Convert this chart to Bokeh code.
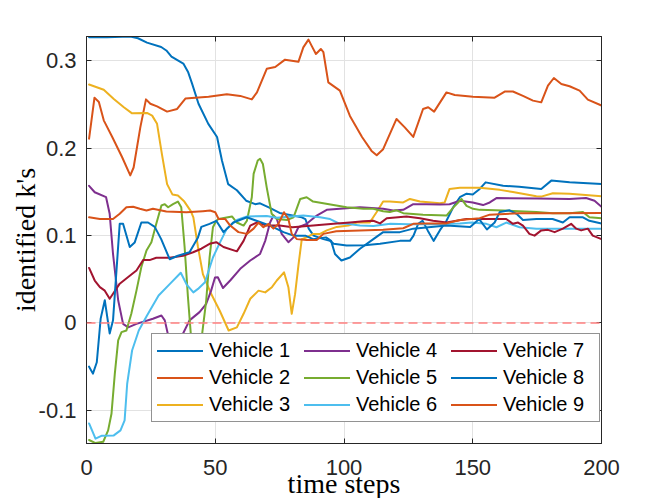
from bokeh.plotting import figure
from bokeh.models import Range1d, LinearAxis, FixedTicker, Legend, LegendItem, Span, Title
from bokeh.embed import file_html
from bokeh.resources import INLINE

# ---------------- data ----------------
x_ticks = [0, 50, 100, 150, 200]
y_ticks = [-0.1, 0, 0.1, 0.2, 0.3]
y_tick_labels = ["-0.1", "0", "0.1", "0.2", "0.3"]
zero_level = 0.0
x_title = "time steps"
y_title = "identified k's"

names = ["Vehicle 1", "Vehicle 2", "Vehicle 3", "Vehicle 4", "Vehicle 5",
         "Vehicle 6", "Vehicle 7", "Vehicle 8", "Vehicle 9"]
colors = ["#0072BD", "#D95319", "#EDB120", "#7E2F8E", "#77AC30",
          "#4DBEEE", "#A2142F", "#0072BD", "#D95319"]

v1_x = [1, 8, 17, 20, 23.5, 29, 31, 33, 37.6, 39.5, 41, 43.5, 47.3, 50.7, 52.6, 55, 58.4, 62, 65.5, 67.4,
        71, 75, 80, 83.6, 85, 86.3, 88.2, 92, 94.6, 96, 101, 108, 114, 121.7, 125.6, 127, 128.8, 130.5,
        132.5, 134.8, 137.2, 139.8, 142.4, 145, 147.6, 150, 152.7, 155, 161.8, 168, 176.6, 180.5, 187.6, 200]
v1_y = [0.327, 0.327, 0.328, 0.326, 0.321, 0.316, 0.312, 0.305, 0.297, 0.287, 0.274, 0.251, 0.228, 0.213,
        0.186, 0.159, 0.152, 0.140, 0.136, 0.137, 0.132, 0.126, 0.123, 0.121, 0.119, 0.108, 0.100, 0.096,
        0.094, 0.0906, 0.0887, 0.089, 0.0906, 0.094, 0.094, 0.100, 0.1135, 0.117, 0.106, 0.094, 0.106,
        0.117, 0.1325, 0.144, 0.148, 0.147, 0.1535, 0.161, 0.157, 0.156, 0.1535, 0.163, 0.161, 0.159]

v2_x = [1, 3.1, 4.8, 6.7, 10, 13.8, 17, 18.3, 20.9, 23.1, 24.8, 27.4, 31.3, 35.2, 38.4, 42.2, 47.4, 54.5,
        59.7, 64.2, 66.2, 70, 73.3, 77.1, 82.3, 84.2, 86.2, 87.5, 89.1, 91, 92, 93.9, 96.5, 98.4, 102.3,
        107, 110.7, 112.7, 115.2, 120.4, 123.6, 126.9, 130.7, 132.7, 135, 139.8, 143, 150.1, 158.5, 162.4,
        165.6, 169.5, 173.4, 176.6, 179.2, 181.5, 184.4, 187.6, 191.5, 194.7, 200]
v2_y = [0.211, 0.258, 0.253, 0.232, 0.213, 0.190, 0.169, 0.178, 0.224, 0.256, 0.251, 0.248, 0.242, 0.245,
        0.257, 0.258, 0.259, 0.262, 0.260, 0.256, 0.264, 0.291, 0.293, 0.3015, 0.299, 0.3156, 0.3244, 0.317,
        0.308, 0.3137, 0.310, 0.2755, 0.270, 0.266, 0.237, 0.213, 0.197, 0.192, 0.199, 0.2336, 0.224, 0.213,
        0.245, 0.247, 0.242, 0.264, 0.261, 0.259, 0.258, 0.265, 0.265, 0.260, 0.2546, 0.2526, 0.2717,
        0.2805, 0.2737, 0.271, 0.266, 0.2557, 0.249]

v3_x = [1, 6.7, 10.6, 14.5, 17.7, 23.5, 25.5, 27.4, 29.3, 31.3, 33.4, 35.5, 38, 40.5, 41.5, 42.5, 43.3,
        45.2, 48.4, 51.7, 55.2, 58.4, 61, 63.6, 66.8, 69.4, 72, 73.9, 76.7, 78.4, 79.7, 81, 82.3, 83.6,
        85.5, 88, 90.7, 93.3, 97.2, 101.7, 105, 110, 112.7, 115.2, 117.8, 123, 125.6, 129.5, 137.2, 139.1,
        141, 145, 152.7, 160.5, 165.6, 174.7, 176.6, 181.1, 187.6, 200]
v3_y = [0.273, 0.267, 0.2565, 0.247, 0.240, 0.2405, 0.2374, 0.228, 0.193, 0.159, 0.147, 0.146, 0.139,
        0.128, 0.121, 0.102, 0.087, 0.056, 0.0334, 0.0143, -0.0086, -0.005, 0.0105, 0.0277, 0.037, 0.035,
        0.041, 0.0486, 0.058, 0.041, 0.0105, 0.033, 0.066, 0.096, 0.098, 0.102, 0.102, 0.106, 0.110,
        0.1115, 0.115, 0.115, 0.127, 0.139, 0.139, 0.138, 0.142, 0.139, 0.137, 0.138, 0.1535, 0.1547,
        0.1547, 0.1524, 0.150, 0.145, 0.1447, 0.1485, 0.148, 0.145]

v4_x = [1, 3.2, 7.6, 9, 10.3, 12.3, 14.2, 16.2, 19.4, 25.8, 29.1, 30.4, 31.7, 33, 34.5, 36, 37.5, 40,
        43.9, 46.5, 48.4, 49.9, 51, 53, 55.8, 59.7, 63.6, 67.4, 69.4, 71.3, 72.6, 73.9, 75.8, 78.4, 80.4,
        82.3, 85.5, 89.4, 93.3, 98.4, 106.2, 115.2, 119.1, 123, 126.9, 132, 137.2, 141, 145, 150, 154,
        156.6, 159.2, 175, 187.6, 194, 197.3, 200]
v4_y = [0.157, 0.1497, 0.144, 0.125, 0.079, 0.026, -0.001, -0.005, -0.001, 0.0048, 0.0086, 0.003, -0.014,
        -0.035, -0.045, -0.030, -0.012, 0.003, 0.0124, 0.022, 0.037, 0.052, 0.0524, 0.040, 0.0486, 0.062,
        0.0715, 0.079, 0.094, 0.115, 0.123, 0.119, 0.102, 0.0925, 0.098, 0.1096, 0.1135, 0.123, 0.1295,
        0.1307, 0.1325, 0.1307, 0.1287, 0.1295, 0.136, 0.136, 0.1356, 0.136, 0.140, 0.138, 0.135, 0.138,
        0.143, 0.1425, 0.142, 0.143, 0.140, 0.133]

v5_x = [1, 3.5, 6.5, 8.4, 9.7, 11, 12.3, 13.6, 15.5, 17.4, 19.4, 21.3, 23.3, 25.2, 27.1, 29.1, 30.4,
        31.7, 33.6, 35.5, 36.8, 38.1, 39.4, 40.7, 42.5, 44.6, 46.5, 47.8, 49.1, 50.4, 51.3, 56.5, 58.4,
        61, 62.3, 64.2, 64.9, 66.5, 67.4, 68.5, 70, 71.9, 74, 78, 80.4, 83, 85.5, 88, 95.9, 101, 107.5,
        111.4, 115.2, 117.8, 120.4, 123, 130.7, 139.8, 143, 145.6, 147.6, 150.1, 152.7, 161.8, 168, 174.7,
        181.1, 187.6, 192.8, 195.3, 200]
v5_y = [-0.134, -0.1375, -0.136, -0.123, -0.104, -0.058, -0.020, -0.0105, -0.0086, 0.0105, 0.037, 0.064,
        0.083, 0.0925, 0.1135, 0.1345, 0.136, 0.1325, 0.136, 0.139, 0.1325, 0.087, 0.0295, -0.020, -0.060,
        -0.020, 0.026, 0.075, 0.1096, 0.117, 0.119, 0.122, 0.115, 0.1115, 0.117, 0.144, 0.1707, 0.186,
        0.188, 0.182, 0.155, 0.125, 0.119, 0.118, 0.121, 0.142, 0.144, 0.139, 0.135, 0.1325, 0.1307,
        0.1307, 0.128, 0.127, 0.129, 0.1257, 0.124, 0.123, 0.134, 0.142, 0.134, 0.1307, 0.1295, 0.1287,
        0.128, 0.127, 0.1257, 0.1257, 0.127, 0.121, 0.120]

v6_x = [1, 3.5, 6, 10.6, 13.2, 14.8, 15.8, 17.7, 20.3, 23.5, 28, 32.5, 36.6, 38.9, 41.5, 43.3, 46, 49.1,
        51.8, 54.5, 58.4, 62.3, 70, 73.9, 84.2, 90.7, 94.6, 98, 101, 106.2, 111.4, 118, 125, 135, 145,
        149.6, 155.3, 159.2, 163, 168.2, 174.7, 187.6, 200]
v6_y = [-0.115, -0.1325, -0.129, -0.1287, -0.123, -0.1115, -0.0696, -0.0315, -0.0086, 0.0086, 0.0315,
        0.045, 0.0575, 0.044, 0.035, 0.039, 0.0467, 0.075, 0.092, 0.108, 0.118, 0.122, 0.1225, 0.1204,
        0.123, 0.121, 0.119, 0.114, 0.1135, 0.1115, 0.111, 0.1135, 0.113, 0.113, 0.114, 0.115, 0.1135,
        0.1096, 0.115, 0.1096, 0.108, 0.108, 0.108]

v7_x = [1, 3.2, 5.2, 7.1, 9, 10.3, 12.9, 16.8, 19.4, 22, 24.5, 27.1, 32.3, 37.5, 41.4, 44.6, 47.8, 50.4,
        53.2, 58.4, 61, 63.6, 66.1, 70, 75, 80, 88, 96, 102.3, 107.5, 111.4, 114, 116.6, 124.3, 129.5,
        134.6, 139.8, 147.6, 154, 163, 165.6, 167.6, 169.5, 172, 174, 176.6, 179.2, 181.8, 185, 188.2,
        190.2, 192.1, 194.7, 196.6, 200]
v7_y = [0.063, 0.0486, 0.041, 0.037, 0.0277, 0.0334, 0.045, 0.054, 0.060, 0.072, 0.072, 0.0746, 0.0746,
        0.077, 0.081, 0.085, 0.0906, 0.0925, 0.087, 0.082, 0.094, 0.1115, 0.115, 0.1115, 0.1115, 0.1096,
        0.1115, 0.1135, 0.115, 0.1165, 0.117, 0.114, 0.120, 0.122, 0.120, 0.117, 0.115, 0.119, 0.119,
        0.119, 0.1135, 0.115, 0.1115, 0.102, 0.100, 0.106, 0.1066, 0.104, 0.108, 0.1135, 0.108, 0.106,
        0.108, 0.100, 0.096]

v8_x = [1, 2.5, 4, 5.5, 7.1, 9, 10.3, 12.9, 14.2, 16.8, 18.7, 21.3, 23.9, 26.5, 29, 32.3, 35.5, 40, 43.3,
        44.6, 47.8, 50.4, 53.2, 57, 62.3, 66, 71.3, 76.5, 80.4, 85, 88, 93, 95, 96.5, 99, 102.3, 106.2,
        111.4, 115.2, 121.7, 126.9, 139.8, 149, 152.5, 155.5, 158.5, 160.5, 164.3, 167, 169.5, 174.7, 181,
        185, 187.6, 192.8, 195.3, 200]
v8_y = [-0.050, -0.058, -0.045, 0.005, 0.026, -0.012, 0.003, 0.1135, 0.1135, 0.087, 0.092, 0.115, 0.115,
        0.110, 0.096, 0.073, 0.077, 0.081, 0.098, 0.110, 0.1135, 0.117, 0.104, 0.115, 0.121, 0.117, 0.1115,
        0.104, 0.100, 0.100, 0.096, 0.098, 0.094, 0.079, 0.0715, 0.075, 0.085, 0.096, 0.104, 0.104, 0.108,
        0.1115, 0.110, 0.119, 0.107, 0.115, 0.127, 0.129, 0.125, 0.118, 0.119, 0.119, 0.115, 0.121, 0.121,
        0.117, 0.114]

v9_x = [1, 5.2, 10.3, 12.9, 15.5, 18.1, 20.7, 23.3, 25.8, 31, 38.8, 45.2, 48, 50, 51.3, 53.9, 55.8, 59,
        62.3, 64.9, 66.8, 68.7, 70.7, 72.6, 74.5, 76.7, 78.4, 79.7, 81.7, 85.5, 89.4, 92, 97, 106.2, 115.2,
        123, 126.9, 132, 139.8, 145, 152.7, 156.6, 168, 181.1, 200]
v9_y = [0.121, 0.119, 0.119, 0.125, 0.1325, 0.133, 0.1307, 0.1287, 0.1307, 0.1276, 0.1268, 0.128, 0.1287,
        0.1268, 0.119, 0.119, 0.1115, 0.104, 0.102, 0.108, 0.115, 0.1096, 0.1135, 0.108, 0.1135, 0.1268,
        0.119, 0.102, 0.096, 0.095, 0.095, 0.102, 0.105, 0.106, 0.1066, 0.1085, 0.1135, 0.114, 0.114,
        0.118, 0.120, 0.124, 0.1257, 0.1257, 0.126]

series_x = [v1_x, v2_x, v3_x, v4_x, v5_x, v6_x, v7_x, v8_x, v9_x]
series_y = [v1_y, v2_y, v3_y, v4_y, v5_y, v6_y, v7_y, v8_y, v9_y]

x_min, x_max = 0, 200
y_min, y_max = -0.138, 0.328

# ---------------- figure ----------------
AX = "#262626"
p = figure(width=664, height=498, output_backend="svg", toolbar_location=None,
           x_range=Range1d(x_min, x_max), y_range=Range1d(y_min, y_max),
           min_border_left=86, min_border_right=63, min_border_top=36, min_border_bottom=55)
p.background_fill_color = "white"
p.border_fill_color = "white"
p.outline_line_color = AX
p.outline_line_width = 1

for ax in (p.xaxis[0], p.yaxis[0]):
    ax.axis_line_color = AX
    ax.major_tick_line_color = AX
    ax.major_tick_in = 5
    ax.major_tick_out = 0
    ax.minor_tick_line_color = None
    ax.major_label_text_font = "Liberation Sans"
    ax.major_label_text_font_size = "22px"
    ax.major_label_text_color = AX
    ax.axis_label_text_font = "Liberation Serif"
    ax.axis_label_text_font_size = "28px"
    ax.axis_label_text_font_style = "normal"
    ax.axis_label_text_color = "black"

p.xaxis.ticker = FixedTicker(ticks=x_ticks)
p.yaxis.ticker = FixedTicker(ticks=y_ticks)
p.yaxis.major_label_overrides = dict(zip(y_ticks, y_tick_labels))
p.xaxis.major_label_standoff = 16
p.yaxis.major_label_standoff = 10
p.yaxis.axis_label = y_title
p.yaxis.axis_label_standoff = -5

for loc, tk in (("above", x_ticks), ("right", y_ticks)):
    ax = LinearAxis(ticker=FixedTicker(ticks=tk))
    ax.axis_line_color = AX
    ax.major_tick_line_color = AX
    ax.major_tick_in = 5
    ax.major_tick_out = 0
    ax.minor_tick_line_color = None
    ax.major_label_text_font_size = "0px"
    ax.major_label_text_color = None
    ax.major_label_standoff = 0
    p.add_layout(ax, loc)

p.xgrid.ticker = FixedTicker(ticks=x_ticks)
p.ygrid.ticker = FixedTicker(ticks=y_ticks)
p.grid.grid_line_color = "#e2e2e2"
p.grid.grid_line_width = 1

# zero reference line
p.add_layout(Span(location=zero_level, dimension="width", line_color="#ff8080",
                  line_width=1.5, line_dash="9 5"))

renderers = []
for xs, ys, c in zip(series_x, series_y, colors):
    r = p.line(xs, ys, line_color=c, line_width=2, line_join="round", line_cap="round")
    renderers.append(r)

legend = Legend(items=[LegendItem(label=n, renderers=[r]) for n, r in zip(names, renderers)],
                ncols=3, nrows=3, orientation="vertical", location=(65, 21))
legend.label_text_font = "Liberation Sans"
legend.label_text_font_size = "20px"
legend.label_text_color = "black"
legend.glyph_width = 46
legend.glyph_height = 23
legend.label_height = 23
legend.label_width = 91
legend.label_standoff = 6
legend.spacing = 4
legend.padding = 5
legend.border_line_color = AX
legend.border_line_width = 1
legend.background_fill_color = "white"
legend.background_fill_alpha = 1
p.add_layout(legend)

# x-axis title as a bottom title, kept inside the bottom edge of the canvas
xt = Title(text=x_title, align="center", vertical_align="bottom", standoff=-24,
           text_font="Liberation Serif", text_font_size="28px", text_font_style="normal",
           text_color="black")
p.add_layout(xt, "below")

open("out.html", "w").write(file_html(p, INLINE))
